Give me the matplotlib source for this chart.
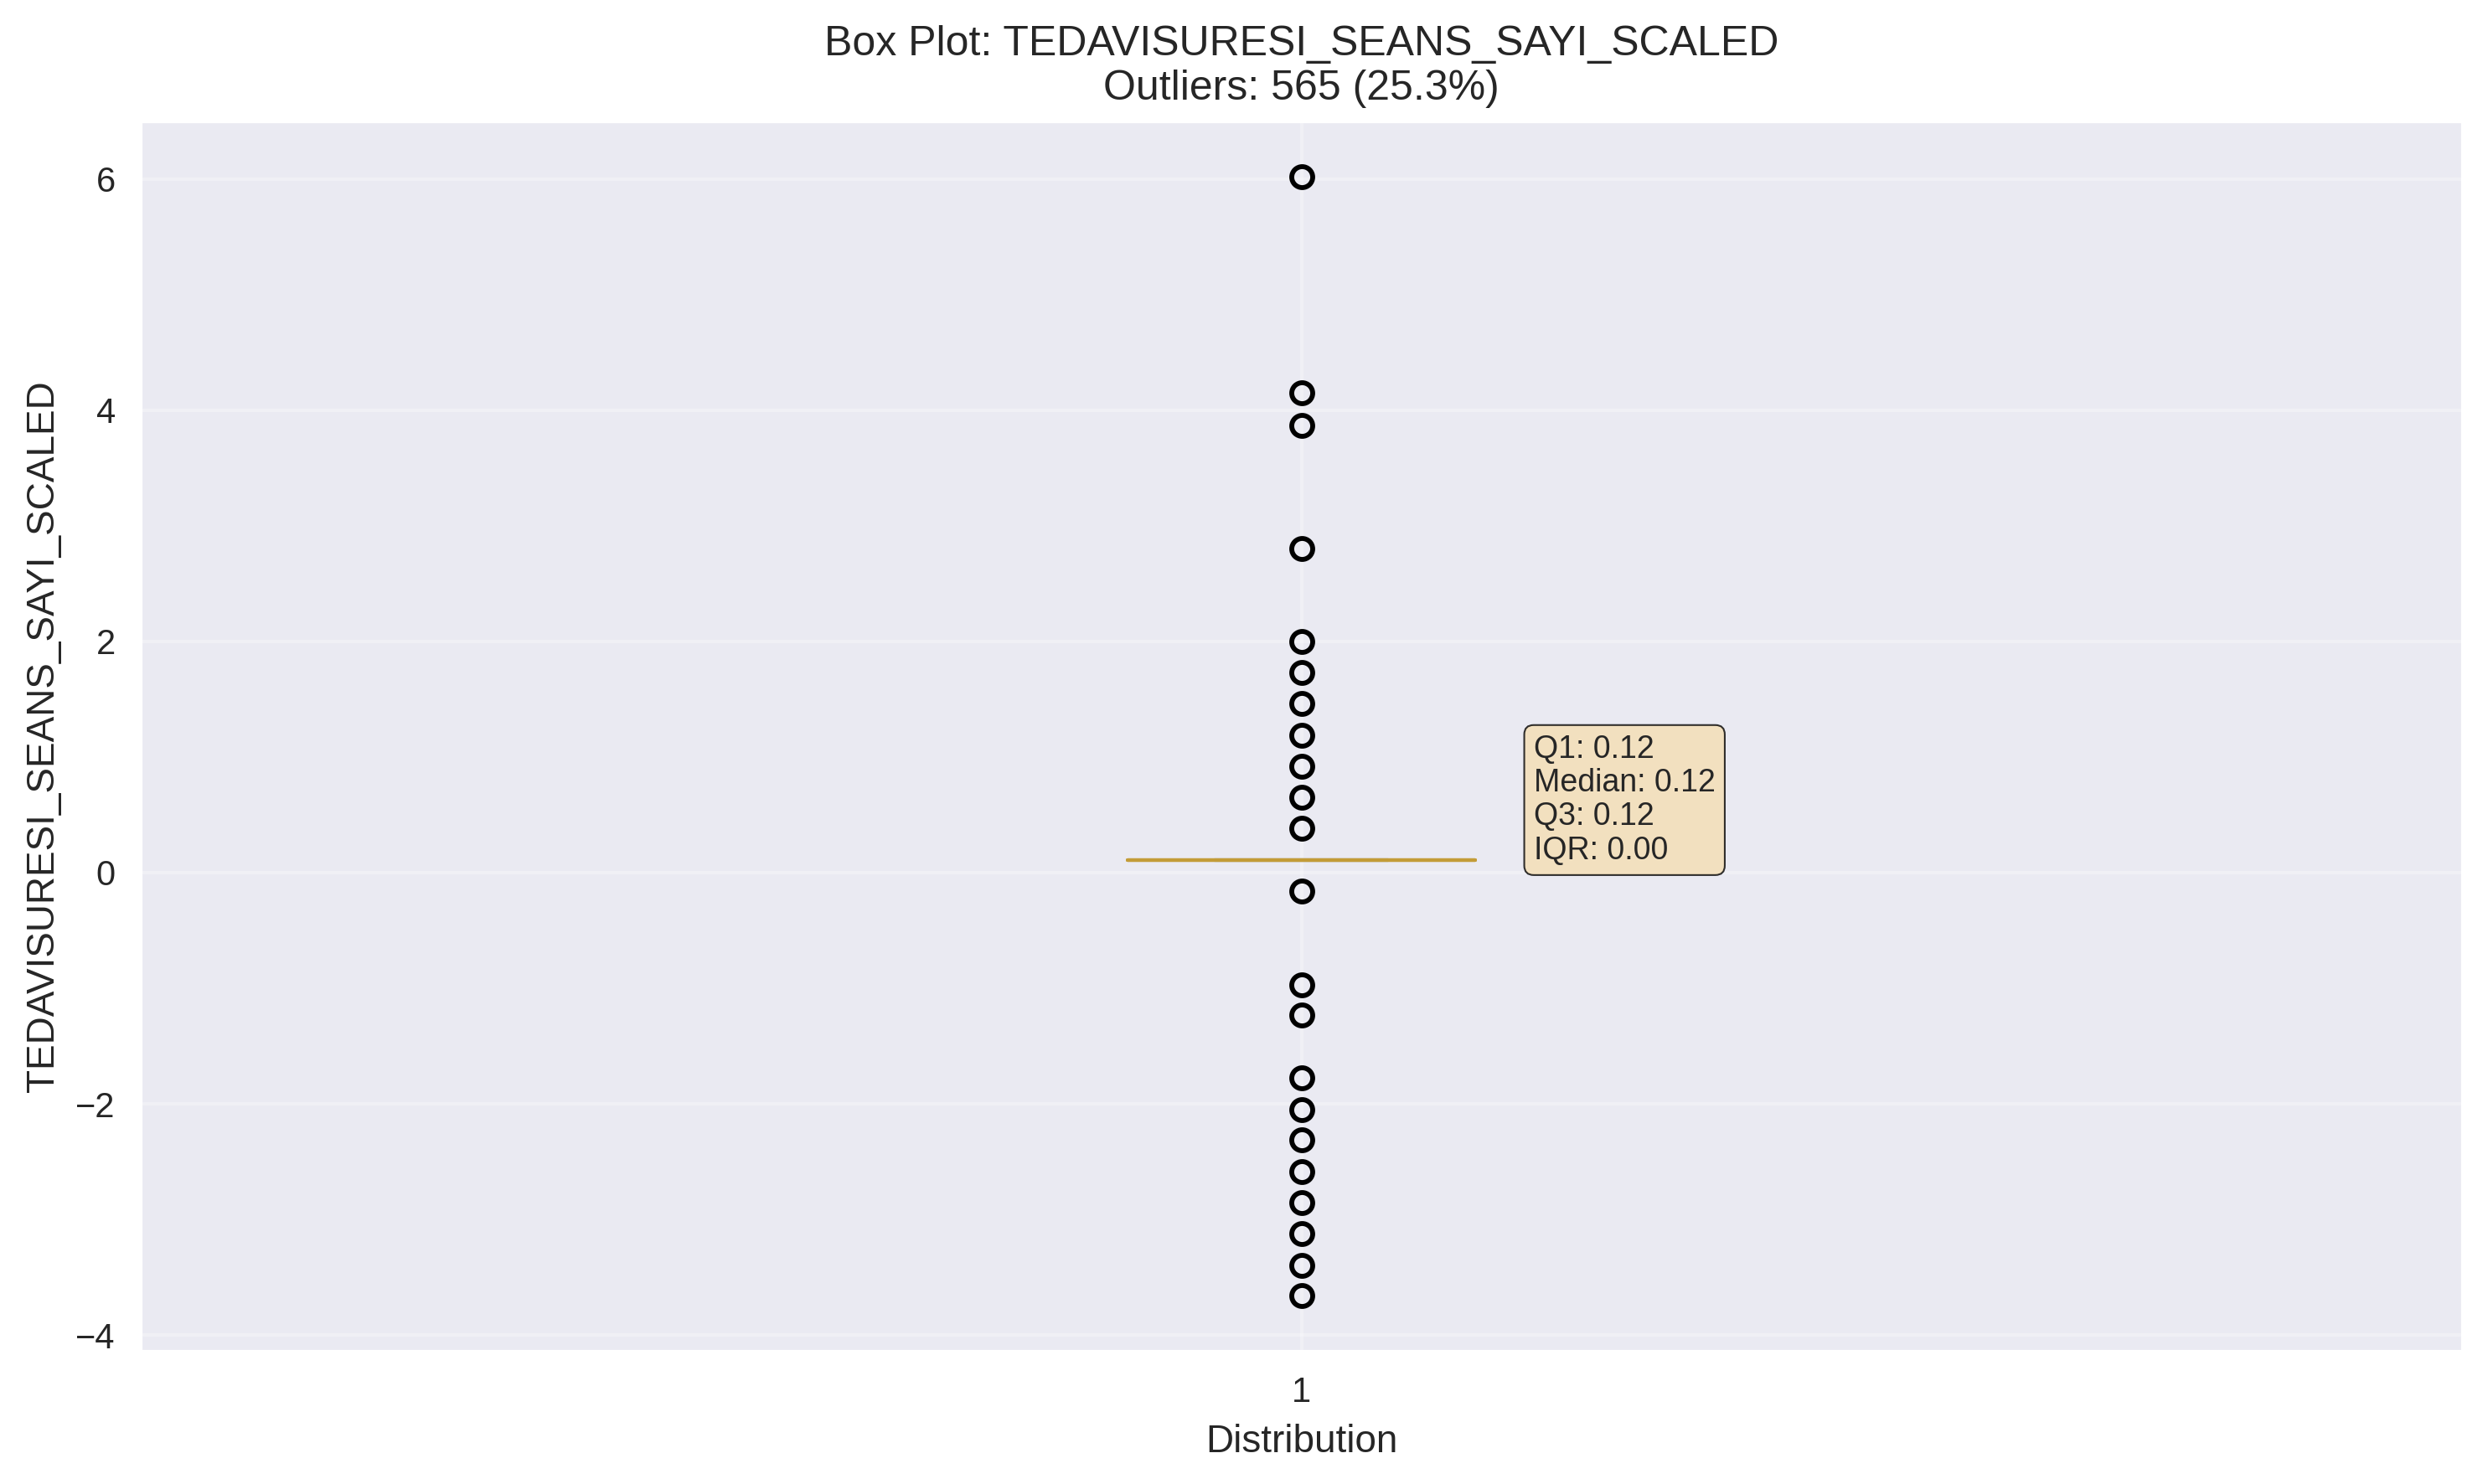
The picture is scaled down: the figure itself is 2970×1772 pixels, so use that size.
import matplotlib
matplotlib.use("Agg")
import matplotlib.pyplot as plt
import seaborn as sns

# ---- data ----
column_name = "TEDAVISURESI_SEANS_SAYI_SCALED"
q1 = 0.11
median = 0.11
q3 = 0.11
whisker_low = 0.11
whisker_high = 0.11
outliers = [6.02, 4.15, 3.87, 2.80, 2.00, 1.73, 1.46, 1.19, 0.92, 0.65, 0.38,
            -0.16, -0.97, -1.235, -1.775, -2.05, -2.315, -2.585, -2.855,
            -3.125, -3.395, -3.66]
outlier_count = 565
outlier_pct = 25.3
stats_labels = ["Q1", "Median", "Q3", "IQR"]
stats_values = [0.12, 0.12, 0.12, 0.00]
box_labels = ["1"]

sns.set_theme(style="darkgrid")
plt.rcParams['font.family'] = ['Liberation Sans', 'DejaVu Sans']

fig = plt.figure(figsize=(2970 / 300, 1772 / 300), dpi=300)
ax = fig.add_axes([167 / 2970, 1 - 1614 / 1772, (2940 - 167) / 2970, (1614 - 144) / 1772])

bstats = [dict(med=median, q1=q1, q3=q3, whislo=whisker_low, whishi=whisker_high,
               fliers=outliers, label=box_labels[0])]
gold = '#C39C37'
ax.bxp(bstats, positions=[1],
       boxprops=dict(color=gold, linewidth=1.0),
       medianprops=dict(color=gold, linewidth=1.0, zorder=3),
       whiskerprops=dict(color='#A9A9A9', linewidth=1.0),
       capprops=dict(color='#A9A9A9', linewidth=1.0),
       flierprops=dict(marker='o', markerfacecolor='none', markeredgecolor='black',
                       markersize=6, markeredgewidth=1.4))

ax.grid(True, alpha=0.3)
ax.set_title(f"Box Plot: {column_name}\nOutliers: {outlier_count} ({outlier_pct}%)",
             fontsize=12)
ax.set_ylabel(column_name, fontsize=11)
ax.set_xlabel("Distribution", fontsize=11)
ax.tick_params(labelsize=10, length=0, pad=7)

text = "\n".join(f"{l}: {v:.2f}" for l, v in zip(stats_labels, stats_values))
ax.text(1.1, 0.06, text, fontsize=9, va='bottom', ha='left', linespacing=1.15,
        bbox=dict(boxstyle='round', facecolor='wheat', edgecolor='black',
                  linewidth=0.5, alpha=0.8))

fig.savefig("out.png", dpi=300)
